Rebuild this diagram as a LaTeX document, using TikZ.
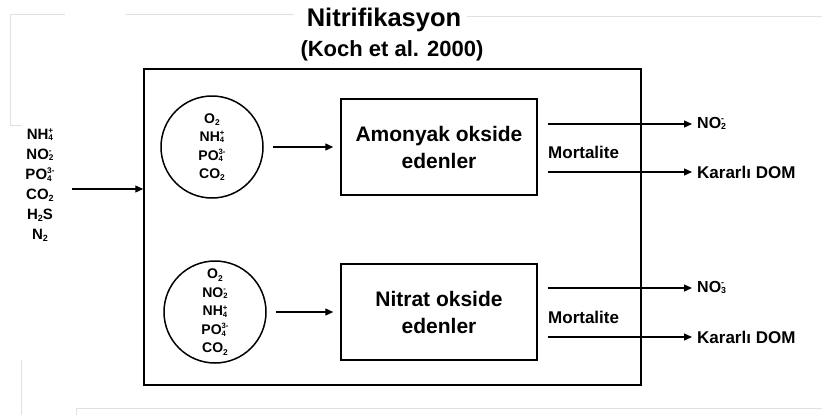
\documentclass[tikz,border=0pt]{standalone}
\usepackage{fontspec}
\setmainfont{Liberation Sans}
\usepackage{graphicx}
\usetikzlibrary{arrows.meta,calc}
\newcommand\ionx[3]{#1\raisebox{0.2ex}{\scalebox{.55}{\def\arraystretch{0.62}\begin{tabular}{@{}l@{}}#3\\#2\end{tabular}}}}
\newcommand\subx[2]{#1\raisebox{-.3ex}{\scalebox{.6}{#2}}}
\begin{document}
\begin{tikzpicture}[x=1pt,y=-1pt,
  every node/.style={font=\bfseries, inner sep=0pt},
  boxst/.style={draw, line width=1.4pt, minimum width=196pt, minimum height=96pt, align=center,
    font=\bfseries\fontsize{21}{27}\selectfont},
  circst/.style={draw, circle, line width=1.5pt, minimum size=102pt, align=center,
    font=\bfseries\fontsize{14}{18.5}\selectfont},
  arr/.style={line width=1.2pt, -{Triangle[length=8pt,width=7pt]}},
  lbl/.style={font=\bfseries\fontsize{17}{20}\selectfont, anchor=west},
  faint/.style={draw=black!12, line width=0.8pt}
]
\useasboundingbox (0,0) rectangle (822,415);
% faint background frames
\draw[faint] (22,125) -- (10,125) -- (10,14) -- (65,14);
\draw[faint] (126,14) -- (294,14);
\draw[faint] (467,16) -- (822,16);
\draw[faint] (76,415) -- (76,408) -- (822,408);
\draw[faint] (21,360) -- (21,415);

\node (title) at (384,20) {\fontsize{25.5}{28}\selectfont Nitrifikasyon};
\node (cite) at (392,51) {\fontsize{22}{24}\selectfont (Koch et al. 2000)};

\node[draw, line width=1.5pt, minimum width=497pt, minimum height=316pt] (outer) at (392.5,227) {};

\node[align=center, font=\bfseries\fontsize{15}{20}\selectfont] (inp) at (40,185)
  {\ionx{NH}{4}{+}\\ \ionx{NO}{2}{-}\\ \ionx{PO}{4}{3-}\\ \subx{CO}{2}\\ \subx{H}{2}S\\ \subx{N}{2}};

\node[circst] (c1) at (212,147) {\subx{O}{2}\\ \ionx{NH}{4}{+}\\ \ionx{PO}{4}{3-}\\ \subx{CO}{2}};
\node[circst] (c2) at (215,312) {\subx{O}{2}\\ \ionx{NO}{2}{-}\\ \ionx{NH}{4}{+}\\ \ionx{PO}{4}{3-}\\ \subx{CO}{2}};

\node[boxst] (b1) at (439,147) {Amonyak okside\\edenler};
\node[boxst] (b2) at (439,312) {Nitrat okside\\edenler};

\node[lbl] (no2) at (697,124) {\fontsize{16}{18}\selectfont\ionx{NO}{2}{-}};
\node[lbl] (dom1) at (697,172) {Kararlı DOM};
\node[lbl] (no3) at (697,288) {\fontsize{16}{18}\selectfont\ionx{NO}{3}{-}};
\node[lbl] (dom2) at (697,337) {Kararlı DOM};
\node[lbl] (m1) at (548,152) {Mortalite};
\node[lbl] (m2) at (548,317) {Mortalite};

\coordinate (src) at (72,189);
\draw[arr] (src) -- (src -| outer.west);
\draw[arr] ([xshift=9pt]c1.east) -- ([xshift=-7pt]b1.west);
\draw[arr] ([xshift=9pt]c2.east) -- ([xshift=-7pt]b2.west);
\draw[arr] ($(b1.east |- no2.west)+(10,0)$) -- ([xshift=-5pt]no2.west);
\draw[arr] ($(b1.east |- dom1.west)+(10,0)$) -- ([xshift=-5pt]dom1.west);
\draw[arr] ($(b2.east |- no3.west)+(10,0)$) -- ([xshift=-5pt]no3.west);
\draw[arr] ($(b2.east |- dom2.west)+(10,0)$) -- ([xshift=-5pt]dom2.west);
\end{tikzpicture}
\end{document}
